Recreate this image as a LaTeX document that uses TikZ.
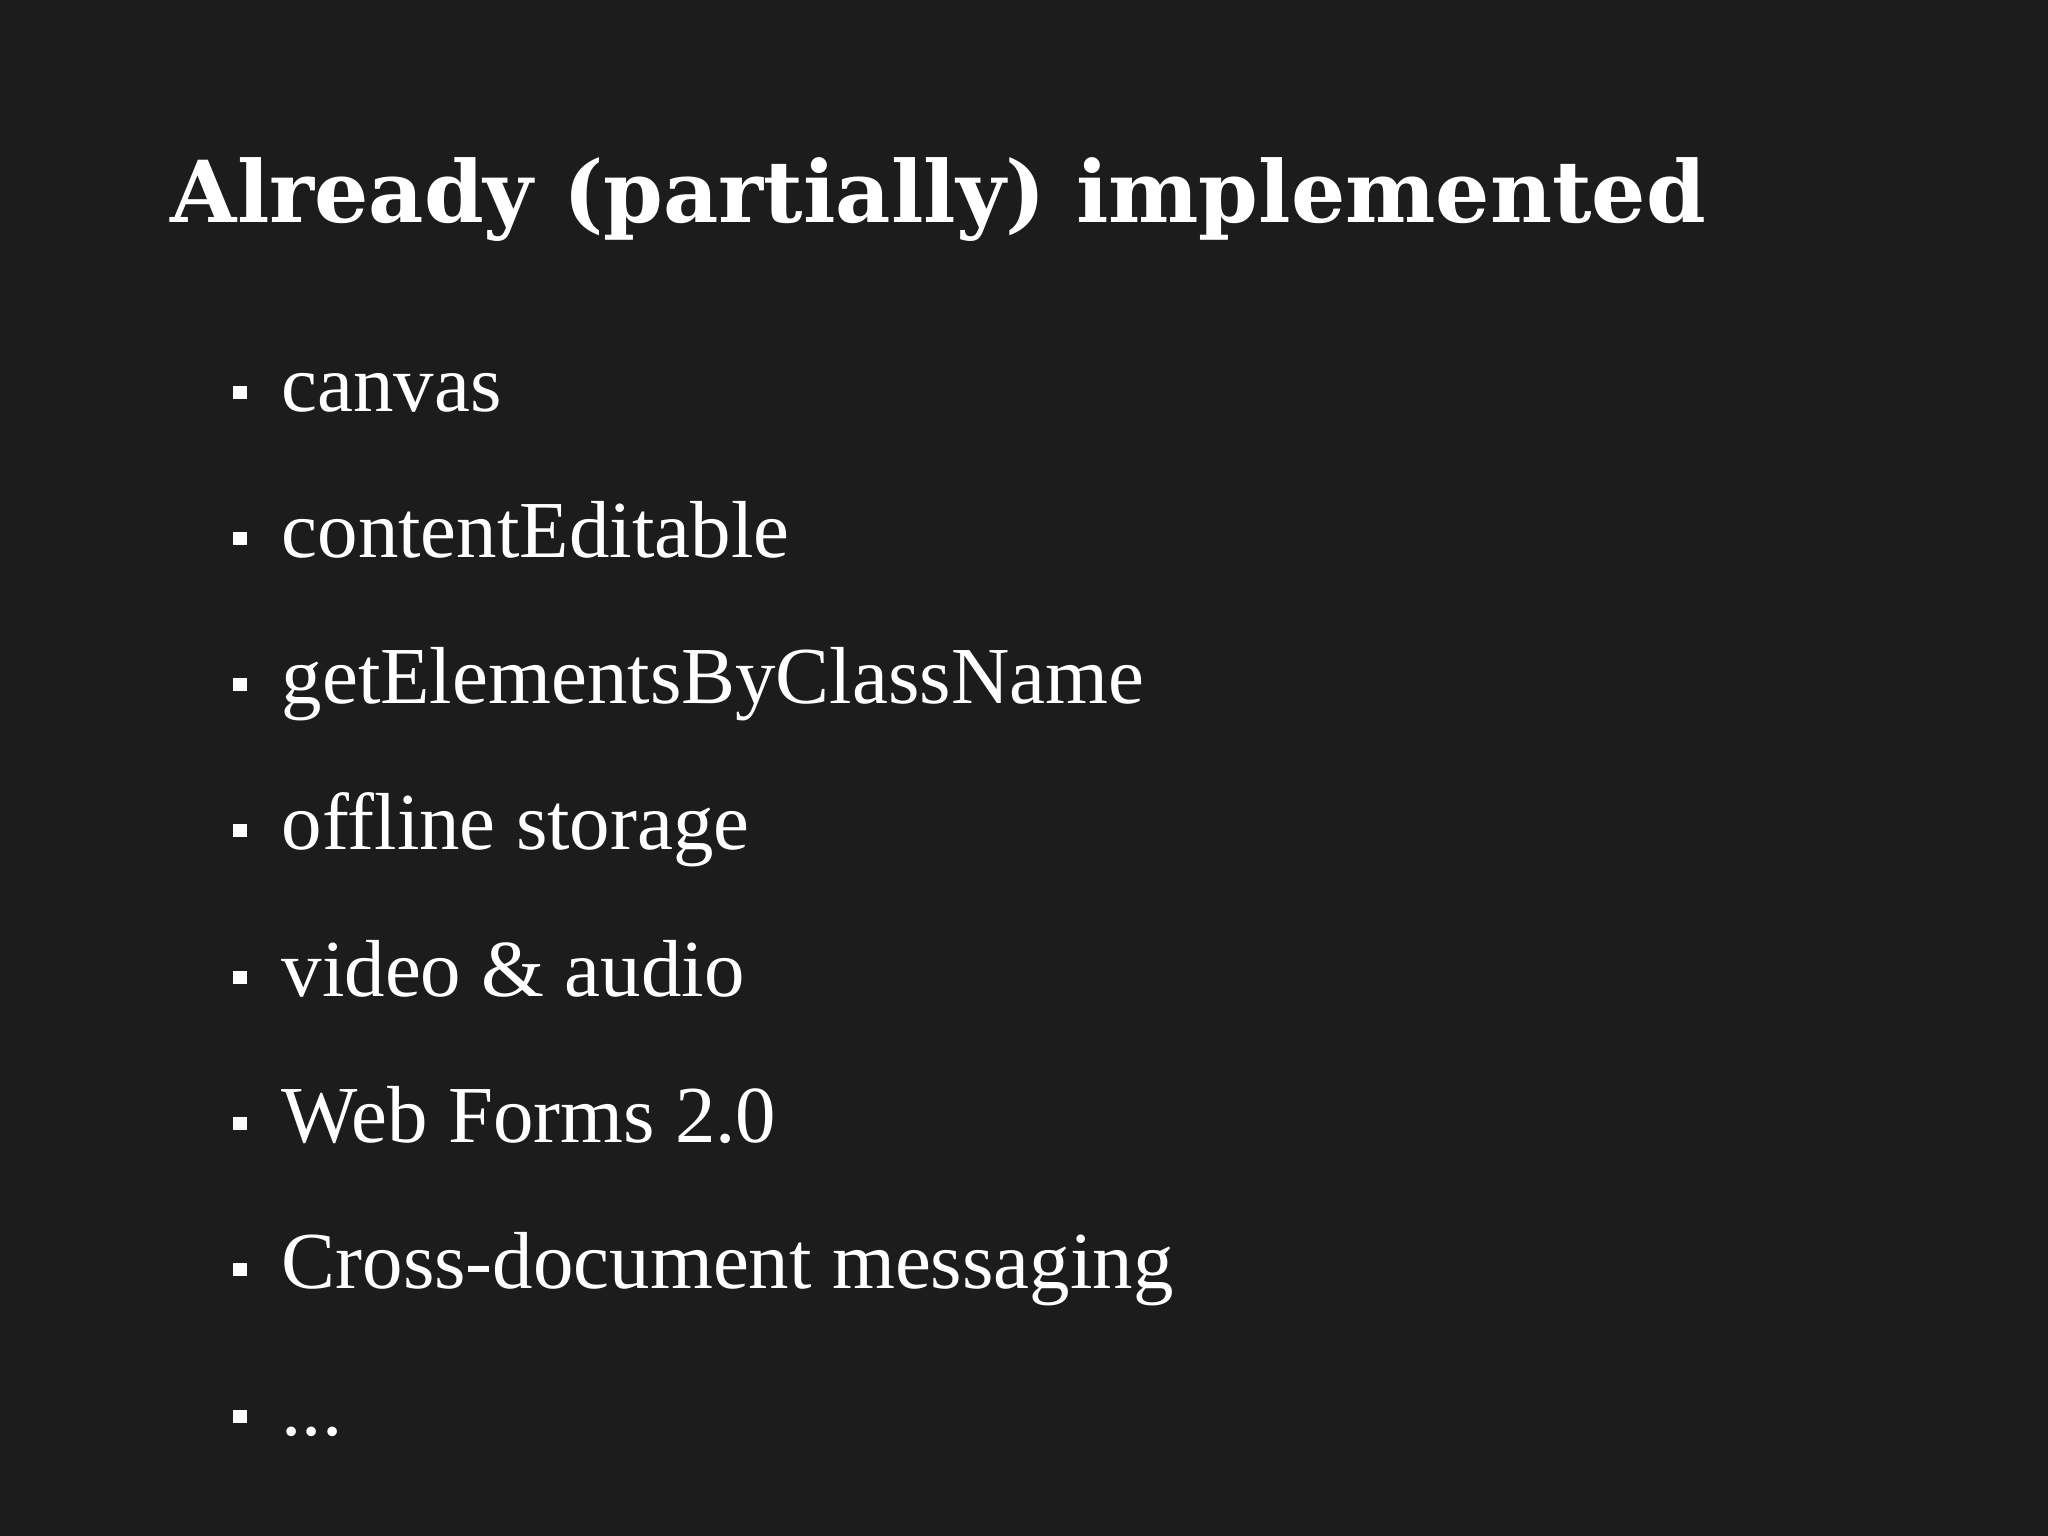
\documentclass[tikz,border=0pt]{standalone}
\usepackage{fontspec}
\setmainfont{DejaVu Serif}
\newfontfamily\bodyfont{Liberation Serif}
\definecolor{bg}{HTML}{1C1C1C}
\begin{document}
\begin{tikzpicture}[x=0.01cm,y=-0.01cm,
  item/.style={anchor=base west,inner sep=0,text=white,font=\bodyfont\fontsize{23}{28}\selectfont},
  bul/.style={fill=white,minimum size=0.13cm,inner sep=0}]
\fill[bg] (0,0) rectangle (2048,1536);
\useasboundingbox (0,0) rectangle (2048,1536);
\node[anchor=base west,inner sep=0,text=white,font=\bfseries\fontsize{24.3}{30}\selectfont] (title) at (170,222) {Already (partially) implemented};
\foreach \t [count=\i] in {canvas,contentEditable,getElementsByClassName,offline storage,video \& audio,Web Forms 2.0,Cross-document messaging,{.{}.{}.}}{
  \node[item] (t\i) at (281,{411+146.3*(\i-1)}) {\t};
  \node[bul] (b\i) at (240,{392+146.3*(\i-1)}) {};
}
\end{tikzpicture}
\end{document}
